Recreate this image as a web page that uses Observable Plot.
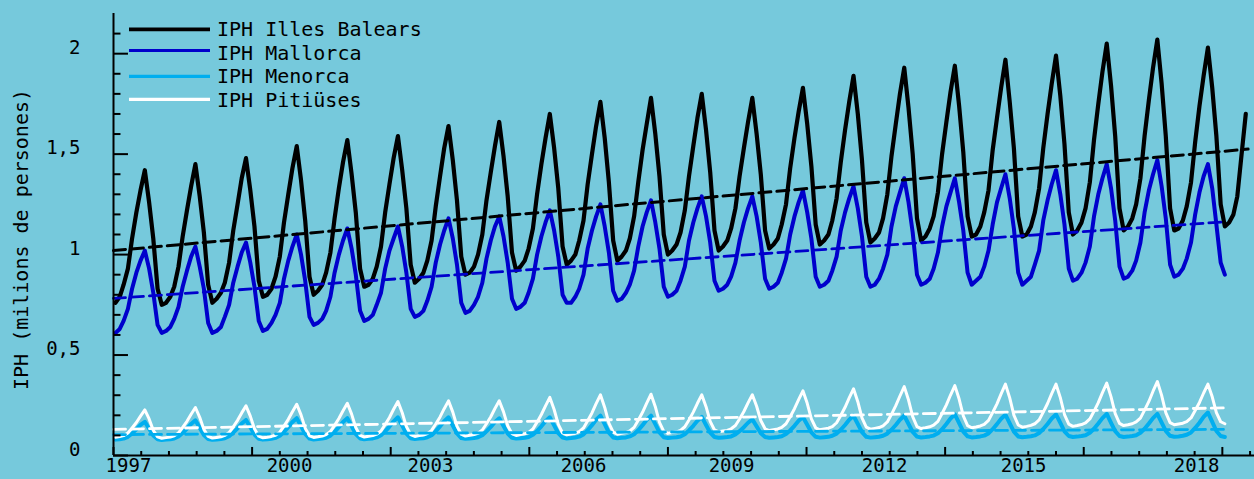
<!DOCTYPE html>
<html><head><meta charset="utf-8">
<script src="https://cdn.jsdelivr.net/npm/d3@7"></script>
<script src="https://cdn.jsdelivr.net/npm/@observablehq/plot@0.6"></script>
<style>
html,body{margin:0;padding:0;background:#76c9dc;}
#chart{width:1254px;height:479px;overflow:hidden;}
svg{display:block;}
</style></head>
<body><div id="chart"></div>
<script>
// ---------- data (monthly values, millions of persons) ----------
const years = [1997,1998,1999,2000,2001,2002,2003,2004,2005,2006,2007,2008,2009,2010,2011,2012,2013,2014,2015,2016,2017,2018,2019];
const seriesNames = ["IPH Illes Balears","IPH Mallorca","IPH Menorca","IPH Pitiüses"];

const balears = [
 [0.76,0.79,0.85,0.93,1.08,1.21,1.32,1.42,1.26,1.08,0.83,0.75],
 [0.76,0.79,0.84,0.94,1.09,1.22,1.34,1.45,1.29,1.11,0.85,0.76],
 [0.78,0.81,0.86,0.96,1.12,1.25,1.38,1.48,1.32,1.14,0.87,0.79],
 [0.80,0.83,0.89,0.99,1.16,1.30,1.43,1.54,1.37,1.17,0.89,0.80],
 [0.82,0.85,0.91,1.01,1.18,1.33,1.46,1.57,1.40,1.21,0.93,0.84],
 [0.85,0.88,0.94,1.04,1.21,1.35,1.48,1.59,1.42,1.23,0.95,0.86],
 [0.88,0.91,0.97,1.07,1.24,1.39,1.53,1.64,1.47,1.27,0.99,0.90],
 [0.91,0.94,1.00,1.10,1.27,1.41,1.54,1.66,1.49,1.29,1.01,0.92],
 [0.94,0.97,1.03,1.13,1.30,1.45,1.58,1.70,1.53,1.33,1.04,0.95],
 [0.97,1.00,1.07,1.17,1.35,1.50,1.64,1.76,1.58,1.36,1.07,0.97],
 [0.99,1.02,1.08,1.19,1.36,1.52,1.65,1.78,1.60,1.39,1.10,1.00],
 [1.02,1.05,1.11,1.22,1.39,1.54,1.68,1.80,1.62,1.41,1.12,1.02],
 [1.04,1.07,1.13,1.23,1.39,1.53,1.66,1.78,1.60,1.40,1.12,1.03],
 [1.05,1.08,1.15,1.25,1.43,1.58,1.71,1.83,1.65,1.44,1.15,1.05],
 [1.07,1.10,1.17,1.28,1.46,1.62,1.76,1.89,1.70,1.47,1.16,1.06],
 [1.08,1.11,1.18,1.30,1.49,1.65,1.80,1.93,1.73,1.50,1.18,1.07],
 [1.09,1.13,1.19,1.31,1.50,1.66,1.81,1.94,1.74,1.51,1.19,1.09],
 [1.10,1.14,1.21,1.32,1.52,1.68,1.83,1.97,1.76,1.53,1.19,1.09],
 [1.10,1.14,1.21,1.33,1.53,1.70,1.85,1.99,1.79,1.55,1.21,1.10],
 [1.12,1.16,1.23,1.36,1.57,1.75,1.91,2.05,1.84,1.59,1.23,1.12],
 [1.14,1.18,1.25,1.38,1.59,1.77,1.93,2.07,1.85,1.59,1.23,1.12],
 [1.13,1.17,1.24,1.36,1.56,1.74,1.89,2.03,1.83,1.59,1.25,1.14],
 [1.16,1.20,1.29,1.50,1.70]
];
const mallorca = [
 [0.61,0.63,0.67,0.73,0.83,0.91,0.97,1.02,0.93,0.81,0.65,0.61],
 [0.62,0.64,0.68,0.74,0.84,0.92,0.99,1.04,0.94,0.83,0.66,0.61],
 [0.62,0.64,0.69,0.75,0.86,0.94,1.01,1.06,0.96,0.84,0.67,0.62],
 [0.63,0.66,0.70,0.76,0.88,0.97,1.04,1.10,1.00,0.87,0.69,0.65],
 [0.66,0.68,0.72,0.79,0.91,1.00,1.07,1.13,1.03,0.90,0.72,0.67],
 [0.68,0.70,0.75,0.81,0.93,1.02,1.08,1.14,1.04,0.91,0.73,0.69],
 [0.70,0.72,0.77,0.84,0.96,1.05,1.12,1.18,1.08,0.95,0.76,0.71],
 [0.72,0.75,0.79,0.86,0.98,1.07,1.14,1.19,1.09,0.96,0.78,0.73],
 [0.74,0.76,0.81,0.88,1.00,1.09,1.16,1.22,1.12,0.99,0.80,0.76],
 [0.76,0.79,0.83,0.90,1.03,1.12,1.19,1.25,1.14,1.01,0.82,0.77],
 [0.78,0.81,0.85,0.92,1.04,1.14,1.21,1.27,1.16,1.03,0.84,0.79],
 [0.80,0.82,0.87,0.94,1.07,1.16,1.23,1.29,1.19,1.06,0.87,0.82],
 [0.83,0.85,0.89,0.96,1.07,1.16,1.23,1.29,1.19,1.06,0.88,0.83],
 [0.84,0.86,0.91,0.98,1.10,1.19,1.26,1.32,1.21,1.08,0.89,0.84],
 [0.85,0.87,0.92,0.99,1.12,1.21,1.28,1.34,1.23,1.09,0.89,0.84],
 [0.85,0.88,0.93,1.00,1.14,1.24,1.31,1.38,1.26,1.11,0.90,0.85],
 [0.86,0.88,0.93,1.01,1.14,1.24,1.31,1.38,1.26,1.12,0.91,0.85],
 [0.87,0.89,0.94,1.02,1.15,1.26,1.33,1.40,1.28,1.13,0.91,0.85],
 [0.87,0.89,0.95,1.02,1.17,1.27,1.35,1.42,1.30,1.15,0.93,0.87],
 [0.88,0.91,0.96,1.04,1.19,1.30,1.38,1.45,1.33,1.17,0.94,0.88],
 [0.89,0.92,0.97,1.06,1.21,1.32,1.40,1.47,1.34,1.18,0.95,0.89],
 [0.90,0.93,0.98,1.06,1.20,1.31,1.39,1.45,1.33,1.15,0.96,0.90]
];
const menorca = [
 [0.079,0.081,0.084,0.093,0.110,0.130,0.152,0.168,0.133,0.100,0.081,0.077],
 [0.079,0.081,0.085,0.095,0.112,0.134,0.157,0.175,0.138,0.102,0.082,0.078],
 [0.080,0.082,0.086,0.096,0.114,0.135,0.159,0.177,0.140,0.104,0.083,0.079],
 [0.081,0.083,0.088,0.098,0.118,0.141,0.167,0.186,0.146,0.107,0.084,0.080],
 [0.082,0.084,0.088,0.099,0.118,0.141,0.167,0.186,0.146,0.107,0.085,0.081],
 [0.083,0.085,0.090,0.101,0.120,0.144,0.170,0.190,0.149,0.109,0.086,0.082],
 [0.084,0.086,0.091,0.101,0.121,0.145,0.171,0.190,0.149,0.110,0.087,0.083],
 [0.085,0.087,0.091,0.101,0.120,0.142,0.167,0.185,0.147,0.109,0.088,0.084],
 [0.086,0.088,0.092,0.103,0.122,0.145,0.171,0.190,0.150,0.111,0.089,0.085],
 [0.087,0.090,0.094,0.105,0.126,0.151,0.178,0.198,0.156,0.114,0.090,0.086],
 [0.088,0.090,0.095,0.106,0.126,0.151,0.178,0.198,0.156,0.115,0.091,0.087],
 [0.089,0.091,0.095,0.106,0.125,0.148,0.173,0.192,0.152,0.114,0.092,0.088],
 [0.090,0.092,0.095,0.105,0.121,0.141,0.163,0.180,0.145,0.111,0.092,0.088],
 [0.090,0.092,0.096,0.107,0.125,0.148,0.173,0.192,0.153,0.115,0.093,0.089],
 [0.091,0.093,0.098,0.109,0.128,0.152,0.178,0.198,0.157,0.116,0.093,0.089],
 [0.091,0.093,0.098,0.109,0.128,0.152,0.178,0.198,0.157,0.117,0.094,0.090],
 [0.092,0.095,0.099,0.111,0.131,0.157,0.184,0.205,0.161,0.119,0.095,0.090],
 [0.092,0.095,0.099,0.110,0.131,0.156,0.183,0.203,0.160,0.119,0.095,0.091],
 [0.093,0.096,0.100,0.112,0.132,0.157,0.184,0.205,0.162,0.120,0.097,0.092],
 [0.094,0.097,0.101,0.113,0.133,0.159,0.186,0.207,0.163,0.121,0.097,0.092],
 [0.094,0.097,0.101,0.113,0.133,0.159,0.186,0.207,0.164,0.122,0.098,0.093],
 [0.095,0.098,0.103,0.115,0.137,0.163,0.192,0.214,0.167,0.122,0.097,0.092]
];
const pitiuses = [
 [0.091,0.094,0.099,0.112,0.137,0.164,0.196,0.227,0.182,0.125,0.093,0.086],
 [0.089,0.092,0.098,0.112,0.140,0.170,0.205,0.239,0.190,0.130,0.095,0.087],
 [0.090,0.093,0.100,0.114,0.143,0.175,0.212,0.247,0.196,0.133,0.096,0.088],
 [0.091,0.095,0.101,0.116,0.146,0.180,0.218,0.255,0.202,0.136,0.098,0.090],
 [0.093,0.097,0.104,0.119,0.150,0.184,0.223,0.260,0.206,0.139,0.100,0.092],
 [0.096,0.099,0.106,0.122,0.154,0.189,0.230,0.269,0.213,0.144,0.104,0.095],
 [0.099,0.102,0.109,0.125,0.157,0.192,0.233,0.272,0.216,0.146,0.106,0.097],
 [0.101,0.104,0.111,0.127,0.158,0.193,0.234,0.272,0.217,0.148,0.109,0.100],
 [0.104,0.108,0.115,0.132,0.166,0.204,0.247,0.289,0.229,0.155,0.112,0.103],
 [0.107,0.111,0.119,0.137,0.173,0.212,0.258,0.302,0.239,0.161,0.116,0.106],
 [0.110,0.114,0.122,0.140,0.176,0.215,0.261,0.305,0.243,0.165,0.120,0.110],
 [0.114,0.118,0.125,0.143,0.177,0.216,0.260,0.302,0.243,0.170,0.127,0.118],
 [0.122,0.125,0.133,0.149,0.182,0.219,0.262,0.302,0.245,0.174,0.133,0.124],
 [0.128,0.132,0.140,0.158,0.193,0.233,0.278,0.322,0.260,0.182,0.138,0.128],
 [0.132,0.136,0.144,0.163,0.199,0.240,0.287,0.332,0.268,0.187,0.141,0.131],
 [0.135,0.139,0.148,0.167,0.205,0.248,0.296,0.343,0.276,0.193,0.144,0.134],
 [0.138,0.143,0.151,0.170,0.209,0.252,0.301,0.348,0.281,0.197,0.149,0.138],
 [0.142,0.147,0.155,0.175,0.214,0.257,0.307,0.355,0.287,0.201,0.152,0.141],
 [0.145,0.150,0.158,0.177,0.216,0.259,0.308,0.355,0.288,0.204,0.156,0.145],
 [0.149,0.154,0.162,0.182,0.220,0.263,0.313,0.360,0.292,0.208,0.160,0.149],
 [0.153,0.158,0.167,0.186,0.226,0.269,0.320,0.368,0.299,0.213,0.164,0.153],
 [0.157,0.161,0.169,0.187,0.224,0.264,0.311,0.355,0.292,0.213,0.168,0.158]
];

// linear trend lines (value at start, value at end, end date)
const trendStartDate = "1997-01-01";
const trendStart = [1.02, 0.782, 0.104, 0.130];
const trendEnd   = [1.525, 1.163, 0.130, 0.237];
const trendEndDate = ["2019-06-01","2018-12-15","2018-12-15","2018-12-15"];

// axis labels
const xTickLabels = ["1997","2000","2003","2006","2009","2012","2015","2018"];
const xTickLabelDates = ["1997-04-19","2000-06-24","2003-04-07","2006-04-15","2009-03-18","2012-03-26","2014-12-24","2018-05-25"];
const yTickValues = [0, 0.5, 1, 1.5, 2];
const yTickLabels = ["0","0,5","1","1,5","2"];
const yLabel = "IPH (milions de persones)";

// ---------- build ----------
const t0 = Date.UTC(1997,0,1);
const dayOf = s => (Date.parse(s + "T00:00:00Z") - t0) / 864e5;
const seriesData = [balears, mallorca, menorca, pitiuses];
const rows = [];
seriesData.forEach((arr, k) => {
  arr.forEach((vals, i) => {
    vals.forEach((v, m) => rows.push({k, day: (Date.UTC(years[i], m, 15) - t0) / 864e5, value: v}));
  });
});
const trends = seriesNames.flatMap((n, k) => [
  {k, day: dayOf(trendStartDate), value: trendStart[k]},
  {k, day: dayOf(trendEndDate[k]), value: trendEnd[k]}
]);
const xLabelRows = xTickLabels.map((t, i) => ({t, day: dayOf(xTickLabelDates[i])}));

const colors = ["#000000", "#0000cc", "#00aeef", "#ffffff"];
const widths = [4.2, 4, 4, 3];
const trendWidths = [3, 2.8, 2.8, 2.8];
const ink = "#000";
const FONT = "'DejaVu Sans Mono', 'Liberation Mono', monospace";

const xTicks = d3.range(0, 8201, 200);
const yTicks = d3.range(0, 22).map(i => i / 10);

const chart = Plot.plot({
  width: 1254, height: 479,
  marginTop: 13, marginBottom: 24, marginLeft: 113, marginRight: 0,
  style: {background: "#76c9dc", fontFamily: FONT, fontSize: "19px", color: "#000", overflow: "visible"},
  x: {type: "linear", domain: [0, 8232], axis: null},
  y: {type: "linear", domain: [0, 2.2], axis: null},
  marks: [
    ...[0,1,2,3].map(k => Plot.line(rows.filter(r => r.k === k), {
      x: "day", y: "value", stroke: colors[k], strokeWidth: widths[k],
      strokeLinejoin: "round", strokeLinecap: "round"
    })),
    ...[0,1,2,3].map(k => Plot.line(trends.filter(r => r.k === k), {
      x: "day", y: "value", stroke: colors[k], strokeWidth: trendWidths[k],
      strokeDasharray: "12,6"
    })),
    Plot.ruleX([0], {stroke: ink, strokeWidth: 2}),
    Plot.ruleY([0], {stroke: ink, strokeWidth: 2}),
    Plot.ruleX(xTicks, {x: d => d, y1: 0, y2: d => (d % 1000 === 0 ? 0.04 : 0.02), stroke: ink, strokeWidth: 2}),
    Plot.ruleY(yTicks, {y: d => d, x1: 0, x2: d => (Math.round(d * 10) % 5 === 0 ? 108 : 54), stroke: ink, strokeWidth: 2}),
    Plot.text(xLabelRows, {x: "day", text: "t", frameAnchor: "bottom", dy: 16, textAnchor: "middle", fontSize: 19, fill: ink}),
    Plot.text(yTickValues, {y: d => d, text: (d, i) => yTickLabels[i], frameAnchor: "left", dx: -33, dy: -6, textAnchor: "end", fontSize: 19, fill: ink}),
    Plot.text([yLabel], {text: d => d, frameAnchor: "left", textAnchor: "middle", rotate: -90, dx: -92, dy: 5, fontSize: 20, fill: ink})
  ]
});

// legend (inside the frame, top-left)
const svg = d3.select(chart);
const legendLineY = [29.3, 50.5, 76.3, 99.3];
const legendTextY = [28.8, 52.5, 75.8, 99.6];
const legendLineW = [3.7, 3.2, 3.2, 3.2];
const lg = svg.append("g").attr("font-family", FONT).attr("font-size", 20)
  .attr("fill", ink).attr("text-anchor", "start");
seriesNames.forEach((name, k) => {
  lg.append("line").attr("x1", 129).attr("x2", 210)
    .attr("y1", legendLineY[k]).attr("y2", legendLineY[k])
    .attr("stroke", colors[k]).attr("stroke-width", legendLineW[k]);
  lg.append("text").attr("x", 217).attr("y", legendTextY[k]).attr("dy", "0.35em")
    .attr("text-anchor", "start").text(name);
});

document.getElementById("chart").appendChild(chart);
</script>
</body></html>
